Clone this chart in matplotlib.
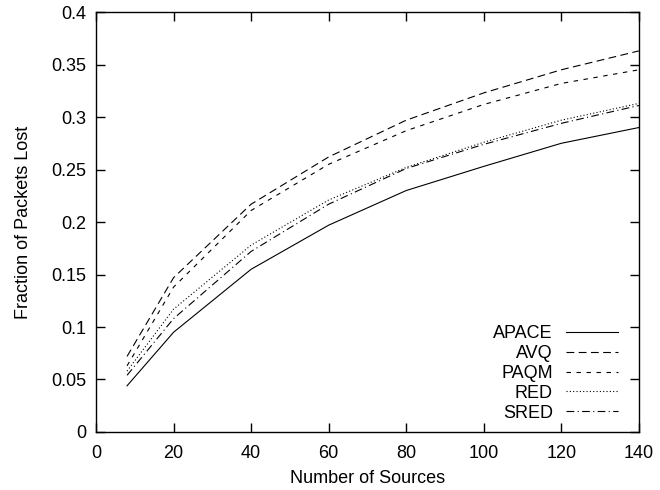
import matplotlib
matplotlib.use("Agg")
import matplotlib.pyplot as plt

plt.rcParams['font.family'] = ['Liberation Sans', 'DejaVu Sans']

# data
sources = [8, 20, 40, 60, 80, 100, 120, 140]
apace = [0.044, 0.095, 0.155, 0.197, 0.230, 0.253, 0.275, 0.290]
avq = [0.072, 0.147, 0.217, 0.262, 0.297, 0.323, 0.345, 0.363]
paqm = [0.063, 0.138, 0.211, 0.255, 0.287, 0.312, 0.332, 0.345]
red = [0.058, 0.117, 0.178, 0.221, 0.252, 0.276, 0.297, 0.313]
sred = [0.054, 0.108, 0.172, 0.217, 0.251, 0.274, 0.294, 0.311]

series = [
    ('APACE', apace, '-'),
    ('AVQ', avq, (0, (7, 4))),
    ('PAQM', paqm, (0, (4, 5))),
    ('RED', red, (0, (1, 2))),
    ('SRED', sred, (0, (7, 3, 1, 3))),
]

fig = plt.figure(figsize=(6.6, 4.9), dpi=100)
ax = fig.add_axes([0.1455, 0.1184, 0.8225, 0.857])

for name, vals, ls in series:
    ax.plot(sources, vals, color='black', linestyle=ls, linewidth=0.8, label=name)

ax.set_xlim(0, 140)
ax.set_ylim(0, 0.4)
ax.set_xticks(range(0, 141, 20))
ax.set_yticks([0, 0.05, 0.1, 0.15, 0.2, 0.25, 0.3, 0.35, 0.4])
ax.set_yticklabels(['0', '0.05', '0.1', '0.15', '0.2', '0.25', '0.3', '0.35', '0.4'])
ax.tick_params(direction='in', top=True, right=True, length=6.5, width=1,
               labelsize=13)
ax.tick_params(axis='x', pad=9.5)
ax.tick_params(axis='y', pad=7)
for sp in ax.spines.values():
    sp.set_linewidth(1)

ax.set_xlabel('Number of Sources', fontsize=13, labelpad=5.5)
ax.set_ylabel('Fraction of Packets Lost', fontsize=13, labelpad=14)

ax.legend(loc='lower right', bbox_to_anchor=(0.978, 0.003), frameon=False,
          markerfirst=False, fontsize=13, borderpad=0,
          handlelength=2.9, handletextpad=0.7, labelspacing=0.16)

fig.savefig('out.png', dpi=100)
